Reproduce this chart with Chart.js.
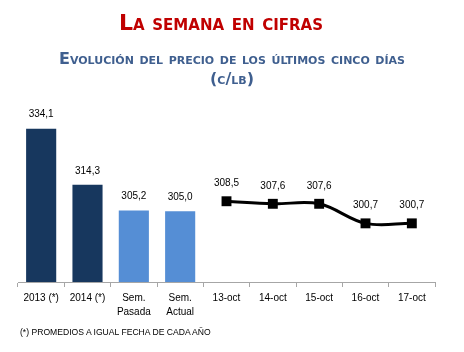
<!DOCTYPE html>
<html>
<head>
<meta charset="utf-8">
<script src="https://cdn.jsdelivr.net/npm/chart.js@4"></script>
<style>
  html, body { margin:0; padding:0; background:#fff; width:464px; height:352px; overflow:hidden; }
  #wrap { position:relative; width:464px; height:352px; }
  canvas { position:absolute; left:0; top:0; }
  .t { position:absolute; left:0; width:464px; text-align:center; font-family:"DejaVu Sans", Verdana, sans-serif; font-weight:bold; font-variant:small-caps; white-space:nowrap; }
  #title { top:10px; left:-11px; font-size:22px; color:#c00000; }
  #sub1 { top:49px; font-size:16px; color:#3f5f8f; }
  #sub2 { top:69px; font-size:16px; color:#3f5f8f; }
  #note { position:absolute; left:20px; top:327px; font-family:"Liberation Sans Narrow","Liberation Sans",sans-serif; font-size:8.6px; color:#000; white-space:nowrap; }
</style>
</head>
<body>
<div id="wrap">
  <canvas id="c" width="464" height="352"></canvas>
  <div class="t" id="title">La semana en cifras</div>
  <div class="t" id="sub1">Evolución del precio de los últimos cinco días</div>
  <div class="t" id="sub2">(c/lb)</div>
  <div id="note">(*) PROMEDIOS A IGUAL FECHA DE CADA AÑO</div>
</div>
<script>
const categories = [["2013 (*)"], ["2014 (*)"], ["Sem.", "Pasada"], ["Sem.", "Actual"], "13-oct", "14-oct", "15-oct", "16-oct", "17-oct"];
const barValues = [334.1, 314.3, 305.2, 305.0, null, null, null, null, null];
const lineValues = [null, null, null, null, 308.5, 307.6, 307.6, 300.7, 300.7];
const barColors = ["#17375e", "#17375e", "#558ed5", "#558ed5"];

const valueLabels = {
  id: 'valueLabels',
  afterDatasetsDraw(chart) {
    const ctx = chart.ctx;
    ctx.save();
    ctx.fillStyle = '#000';
    ctx.font = '10px "Liberation Sans", Arial, sans-serif';
    ctx.textAlign = 'center';
    ctx.textBaseline = 'middle';
    chart.data.datasets.forEach((ds, di) => {
      const meta = chart.getDatasetMeta(di);
      const off = ds.type === 'line' ? 18 : 14;
      meta.data.forEach((el, i) => {
        const v = ds.data[i];
        if (v === null || v === undefined) return;
        ctx.fillText(v.toFixed(1).replace('.', ','), el.x, el.y - off);
      });
    });
    ctx.restore();
  }
};

new Chart(document.getElementById('c'), {
  data: {
    labels: categories,
    datasets: [
      {
        type: 'bar',
        data: barValues,
        backgroundColor: barColors,
        barPercentage: 0.65,
        categoryPercentage: 1.0,
        order: 2
      },
      {
        type: 'line',
        data: lineValues,
        borderColor: '#000',
        borderWidth: 3,
        tension: 0.35,
        pointStyle: 'rect',
        pointRadius: 7,
        pointBackgroundColor: '#000',
        pointBorderColor: '#000',
        pointBorderWidth: 0,
        clip: false,
        order: 1
      }
    ]
  },
  options: {
    responsive: false,
    animation: false,
    layout: { padding: { top: 112, left: 18, right: 29, bottom: 29 } },
    plugins: { legend: { display: false }, tooltip: { enabled: false } },
    scales: {
      x: {
        grid: { drawOnChartArea: false, drawTicks: true, tickLength: 5, color: '#a6a6a6', offset: true },
        border: { color: '#a6a6a6', width: 1 },
        ticks: { color: '#000', font: { family: '"Liberation Sans", Arial, sans-serif', size: 10, lineHeight: 1.4 }, padding: 4, maxRotation: 0, autoSkip: false }
      },
      y: { display: false, min: 280, max: 340 }
    }
  },
  plugins: [valueLabels]
});
</script>
</body>
</html>
